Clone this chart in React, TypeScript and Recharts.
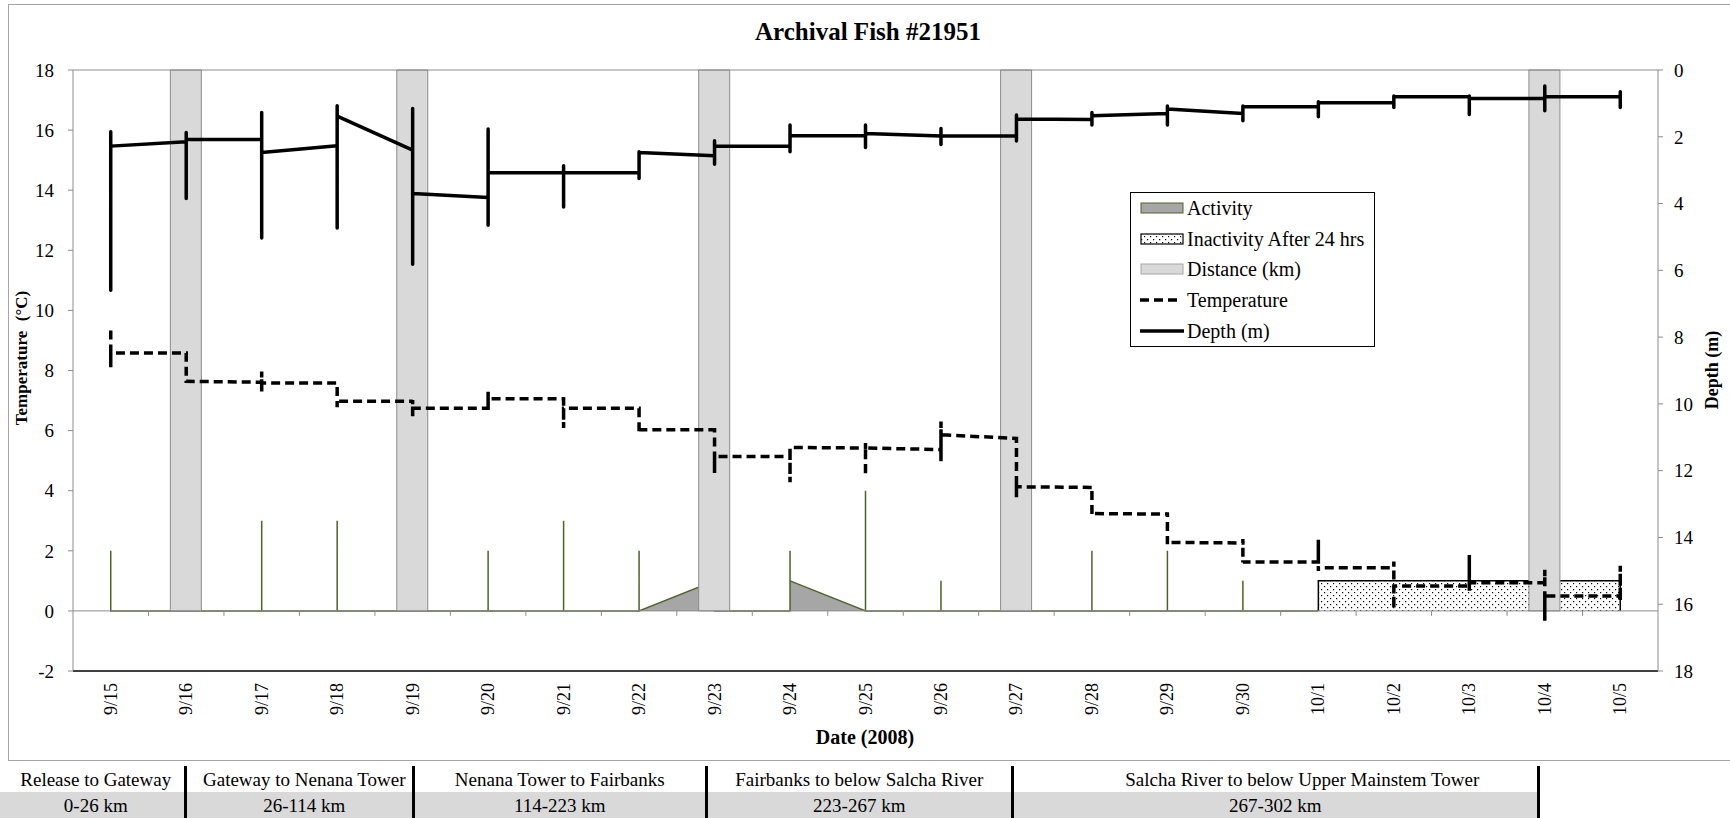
import React from "react";
import {
  Area,
  Bar,
  ComposedChart,
  Legend,
  Line,
  ReferenceLine,
  Scatter,
  XAxis,
  YAxis,
} from "recharts";

const FONT = '"Liberation Serif", "Times New Roman", Times, serif';

const dates = [
  "9/15", "9/16", "9/17", "9/18", "9/19", "9/20", "9/21", "9/22", "9/23", "9/24", "9/25",
  "9/26", "9/27", "9/28", "9/29", "9/30", "10/1", "10/2", "10/3", "10/4", "10/5",
];

// Depth (m) per day: first reading, shallowest, deepest, last reading
const depthFirst = [2.3, 2.15, 2.08, 2.27, 2.4, 3.82, 3.08, 3.08, 2.57, 2.28, 1.97, 1.98, 1.98, 1.48, 1.3, 1.3, 1.1, 0.98, 0.8, 0.85, 0.8];
const depthMin = [1.85, 1.87, 1.27, 1.07, 1.15, 1.77, 2.87, 2.45, 2.12, 1.65, 1.65, 1.75, 1.35, 1.27, 1.08, 1.08, 0.95, 0.78, 0.78, 0.48, 0.65];
const depthMax = [6.6, 3.85, 5.03, 4.73, 5.82, 4.65, 4.1, 3.25, 2.82, 2.45, 2.32, 2.23, 2.13, 1.65, 1.65, 1.52, 1.4, 1.12, 1.33, 1.22, 1.12];
const depthLast = [2.28, 2.08, 2.47, 1.38, 3.7, 3.08, 3.08, 2.47, 2.28, 1.97, 1.9, 1.98, 1.47, 1.37, 1.17, 1.1, 0.98, 0.8, 0.85, 0.8, 0.8];

// Temperature (°C) per day: first reading, warmest, coldest, last reading
const tempFirst = [9.33, 8.58, 7.61, 7.58, 6.98, 6.74, 7.06, 6.74, 6.03, 5.14, 5.42, 5.37, 5.74, 4.11, 3.22, 2.26, 1.63, 1.44, 0.83, 0.94, 0.5];
const tempMax = [9.33, 8.58, 7.97, 7.58, 7.02, 7.3, 7.06, 6.74, 6.03, 5.44, 5.59, 6.3, 5.74, 4.13, 3.28, 2.39, 2.37, 1.64, 1.86, 1.37, 1.5];
const tempMin = [8.11, 7.67, 7.28, 6.78, 6.48, 6.69, 6.09, 5.91, 4.59, 4.28, 4.5, 4.98, 3.78, 3.2, 2.22, 1.61, 1.33, 0.06, 0.67, -0.33, 0.33];
const tempLast = [8.58, 7.64, 7.58, 6.98, 6.74, 7.06, 6.74, 6.03, 5.14, 5.44, 5.42, 5.86, 4.13, 3.24, 2.28, 1.63, 1.44, 0.83, 0.94, 0.5, 0.5];

// Activity 9/15 - 10/1: level at start of day, daily peak, level at end of day
const activityIn = [0, 0, 0, 0, 0, 0, 0, 0, 1, 0, 0, 0, 0, 0, 0, 0, 0];
const activityPeak = [2, 0, 3, 3, 0, 2, 3, 2, 1, 2, 4, 1, 0, 2, 2, 1, 0];
const activityOut = [0, 0, 0, 0, 0, 0, 0, 0, 0, 1, 0, 0, 0, 0, 0, 0, 0];

const inactivityDays = ["10/1", "10/2", "10/3", "10/4", "10/5"];
const inactivityLevel = [1, 1, 1, 1, 1];

// receiver passages, drawn full height
const distanceDays = ["9/16", "9/19", "9/23", "9/27", "10/4"];
const distanceValue = [18, 18, 18, 18, 18];

const tempTicks = [-2, 0, 2, 4, 6, 8, 10, 12, 14, 16, 18];
const depthTicks = [0, 2, 4, 6, 8, 10, 12, 14, 16, 18];

const legendLabels = ["Activity", "Inactivity After 24 hrs", "Distance (km)", "Temperature", "Depth (m)"];

const segmentNames = [
  "Release to Gateway",
  "Gateway to Nenana Tower",
  "Nenana Tower to Fairbanks",
  "Fairbanks to below Salcha River",
  "Salcha River to below Upper Mainstem Tower",
];
const segmentRanges = ["0-26 km", "26-114 km", "114-223 km", "223-267 km", "267-302 km"];
const segmentEdges = [0, 185, 413.5, 706, 1012.5, 1538];
// horizontal nudge of the name row in each cell
const nameShift = [8, 10, 0, 0, 54];
const rangeShift = [8, 10, 0, 0, 0];

const dayIndex = (d: string) => dates.indexOf(d);

// all readings of one day share its x, so each day shows up as a vertical run
const depthPoints = dates.flatMap((_, i) =>
  [depthFirst[i], depthMin[i], depthMax[i], depthLast[i]].map((depth) => ({ x: i, depth }))
);
const tempPoints = dates.flatMap((_, i) =>
  [tempFirst[i], tempMax[i], tempMin[i], tempLast[i]].map((temp) => ({ x: i, temp }))
);
const activityPoints = activityPeak.flatMap((peak, i) =>
  [activityIn[i], peak, activityOut[i]].map((activity) => ({ x: i, activity }))
);
const inactivityPoints = [
  { x: dayIndex(inactivityDays[0]), inactivity: 0 },
  ...inactivityDays.map((d, i) => ({ x: dayIndex(d), inactivity: inactivityLevel[i] })),
  { x: dayIndex(inactivityDays[inactivityDays.length - 1]), inactivity: 0 },
];
const distanceRows = distanceDays.map((d, i) => ({ x: dayIndex(d), distance: distanceValue[i] }));
const boundaryMarks = dates.slice(1).map((_, i) => ({ x: i + 0.5, mark: 0 }));

function DateTick(props: any) {
  const { x, y, payload } = props;
  return (
    <text
      x={x}
      y={y}
      transform={`rotate(-90 ${x} ${y})`}
      textAnchor="end"
      dominantBaseline="central"
      fontSize={18}
      fontFamily={FONT}
      fill="#000"
    >
      {dates[Math.round(payload.value)]}
    </text>
  );
}

function TickMark(props: any) {
  const { cx, cy } = props;
  return <line x1={cx} y1={cy} x2={cx} y2={cy + 5} stroke="#8c8c8c" strokeWidth={1} />;
}

function Swatch({ index }: { index: number }) {
  return (
    <svg width={44} height={14} style={{ display: "block", flex: "none" }}>
      <defs>
        <pattern id="legendDots" width={6} height={6} patternUnits="userSpaceOnUse">
          <rect width={6} height={6} fill="#fff" />
          <rect x={1} y={1} width={1.2} height={1.2} fill="#000" />
          <rect x={4} y={4} width={1.2} height={1.2} fill="#000" />
        </pattern>
      </defs>
      {index === 0 && <rect x={1} y={2} width={42} height={10} fill="#a6a6a6" stroke="#4f6228" strokeWidth={1} />}
      {index === 1 && <rect x={1} y={2} width={42} height={10} fill="url(#legendDots)" stroke="#000" strokeWidth={1.2} />}
      {index === 2 && <rect x={1} y={2} width={42} height={10} fill="#d9d9d9" stroke="#a6a6a6" strokeWidth={1} />}
      {index === 3 && <line x1={0} y1={7} x2={42} y2={7} stroke="#000" strokeWidth={3.5} strokeDasharray="9 5" />}
      {index === 4 && <line x1={0} y1={7} x2={44} y2={7} stroke="#000" strokeWidth={3.5} />}
    </svg>
  );
}

function LegendBox() {
  return (
    <div
      style={{
        width: 243,
        border: "1.5px solid #000",
        background: "#fff",
        fontFamily: FONT,
        fontSize: 20,
        color: "#000",
      }}
    >
      {legendLabels.map((label, i) => (
        <div key={label} style={{ display: "flex", alignItems: "center", height: 30.6, paddingLeft: 9 }}>
          <Swatch index={i} />
          <span style={{ marginLeft: 3, lineHeight: 1, whiteSpace: "nowrap" }}>{label}</span>
        </div>
      ))}
    </div>
  );
}

export default function App() {
  return (
    <div
      style={{
        position: "relative",
        width: 1730,
        height: 818,
        overflow: "hidden",
        background: "#fff",
        fontFamily: FONT,
      }}
    >
      <style>{"body{margin:0}"}</style>
      <div
        style={{
          position: "absolute",
          left: 8,
          top: 4,
          width: 1760,
          height: 755,
          border: "1px solid #a6a6a6",
        }}
      />
      <div style={{ position: "absolute", left: 0, top: 0 }}>
        <ComposedChart
          width={1730}
          height={760}
          data={distanceRows}
          margin={{ top: 70, right: 12, bottom: 29, left: 13 }}
        >
          <defs>
            <pattern id="inactiveDots" width={6} height={6} patternUnits="userSpaceOnUse">
              <rect width={6} height={6} fill="#fff" />
              <rect x={1} y={1} width={1.2} height={1.2} fill="#000" />
              <rect x={4} y={4} width={1.2} height={1.2} fill="#000" />
            </pattern>
          </defs>
          <XAxis
            dataKey="x"
            type="number"
            domain={[-0.5, 20.5]}
            ticks={dates.map((_, i) => i)}
            interval={0}
            tickSize={0}
            tickMargin={12}
            tickLine={false}
            tick={<DateTick />}
            axisLine={{ stroke: "#000", strokeWidth: 1.5 }}
            height={60}
          />
          <YAxis
            yAxisId="left"
            domain={[-2, 18]}
            ticks={tempTicks}
            interval={0}
            width={60}
            tickSize={5}
            tickMargin={14}
            axisLine={{ stroke: "#8c8c8c" }}
            tickLine={{ stroke: "#8c8c8c" }}
            tick={{ fill: "#000", fontSize: 19, fontFamily: FONT }}
          />
          <YAxis
            yAxisId="right"
            orientation="right"
            reversed
            domain={[0, 18]}
            ticks={depthTicks}
            interval={0}
            width={60}
            tickSize={5}
            tickMargin={11}
            axisLine={{ stroke: "#8c8c8c" }}
            tickLine={{ stroke: "#8c8c8c" }}
            tick={{ fill: "#000", fontSize: 19, fontFamily: FONT }}
          />
          <ReferenceLine yAxisId="left" y={18} stroke="#8c8c8c" strokeWidth={1} />
          <ReferenceLine yAxisId="left" y={0} stroke="#8c8c8c" strokeWidth={1} />
          <Area
            yAxisId="left"
            data={activityPoints}
            dataKey="activity"
            type="linear"
            stroke="#4f6228"
            strokeWidth={1.5}
            fill="#a6a6a6"
            fillOpacity={1}
            dot={false}
            activeDot={false}
            isAnimationActive={false}
          />
          <Area
            yAxisId="left"
            data={inactivityPoints}
            dataKey="inactivity"
            type="linear"
            stroke="#000"
            strokeWidth={1.5}
            fill="url(#inactiveDots)"
            fillOpacity={1}
            dot={false}
            activeDot={false}
            isAnimationActive={false}
          />
          <Bar
            yAxisId="left"
            dataKey="distance"
            barSize={31}
            fill="#d9d9d9"
            stroke="#8c8c8c"
            strokeWidth={1}
            isAnimationActive={false}
          />
          <Scatter
            yAxisId="left"
            data={boundaryMarks}
            dataKey="mark"
            shape={<TickMark />}
            isAnimationActive={false}
          />
          <Line
            yAxisId="left"
            data={tempPoints}
            dataKey="temp"
            type="linear"
            stroke="#000"
            strokeWidth={3.5}
            strokeDasharray="9 5"
            dot={false}
            activeDot={false}
            isAnimationActive={false}
          />
          <Line
            yAxisId="right"
            data={depthPoints}
            dataKey="depth"
            type="linear"
            stroke="#000"
            strokeWidth={3.5}
            strokeLinecap="round"
            strokeLinejoin="round"
            dot={false}
            activeDot={false}
            isAnimationActive={false}
          />
          <Legend
            layout="vertical"
            align="center"
            verticalAlign="middle"
            wrapperStyle={{ left: 1130, top: 192, width: "auto" }}
            content={<LegendBox />}
          />
        </ComposedChart>
      </div>

      <svg
        width={1730}
        height={818}
        style={{ position: "absolute", left: 0, top: 0, pointerEvents: "none" }}
        fontFamily={FONT}
      >
        <text x={868} y={40} textAnchor="middle" fontSize={25} fontWeight="bold">
          Archival Fish #21951
        </text>
        <text x={865} y={744} textAnchor="middle" fontSize={20} fontWeight="bold">
          Date (2008)
        </text>
        <text x={27} y={378} transform="rotate(-90 27 378)" textAnchor="middle" fontSize={17} fontWeight="bold">
          Temperature
        </text>
        <text x={27} y={306} transform="rotate(-90 27 306)" textAnchor="middle" fontSize={17} fontWeight="bold">
          (°C)
        </text>
        <text x={1718} y={370} transform="rotate(-90 1718 370)" textAnchor="middle" fontSize={18} fontWeight="bold">
          Depth (m)
        </text>
      </svg>

      {segmentNames.map((name, i) => {
        const left = i === 0 ? 0 : segmentEdges[i] + 1.5;
        const width = segmentEdges[i + 1] + 1.5 - left;
        return (
          <div
            key={name}
            style={{
              position: "absolute",
              left,
              top: 766,
              width,
              height: 60,
              boxSizing: "border-box",
              borderRight: "3px solid #000",
              fontSize: 19,
              color: "#000",
              textAlign: "center",
            }}
          >
            <div style={{ height: 26, lineHeight: "28px", whiteSpace: "nowrap", paddingLeft: nameShift[i] }}>
              {name}
            </div>
            <div
              style={{
                height: 34,
                lineHeight: "28px",
                background: "#d9d9d9",
                whiteSpace: "nowrap",
                paddingLeft: rangeShift[i],
              }}
            >
              {segmentRanges[i]}
            </div>
          </div>
        );
      })}
    </div>
  );
}
